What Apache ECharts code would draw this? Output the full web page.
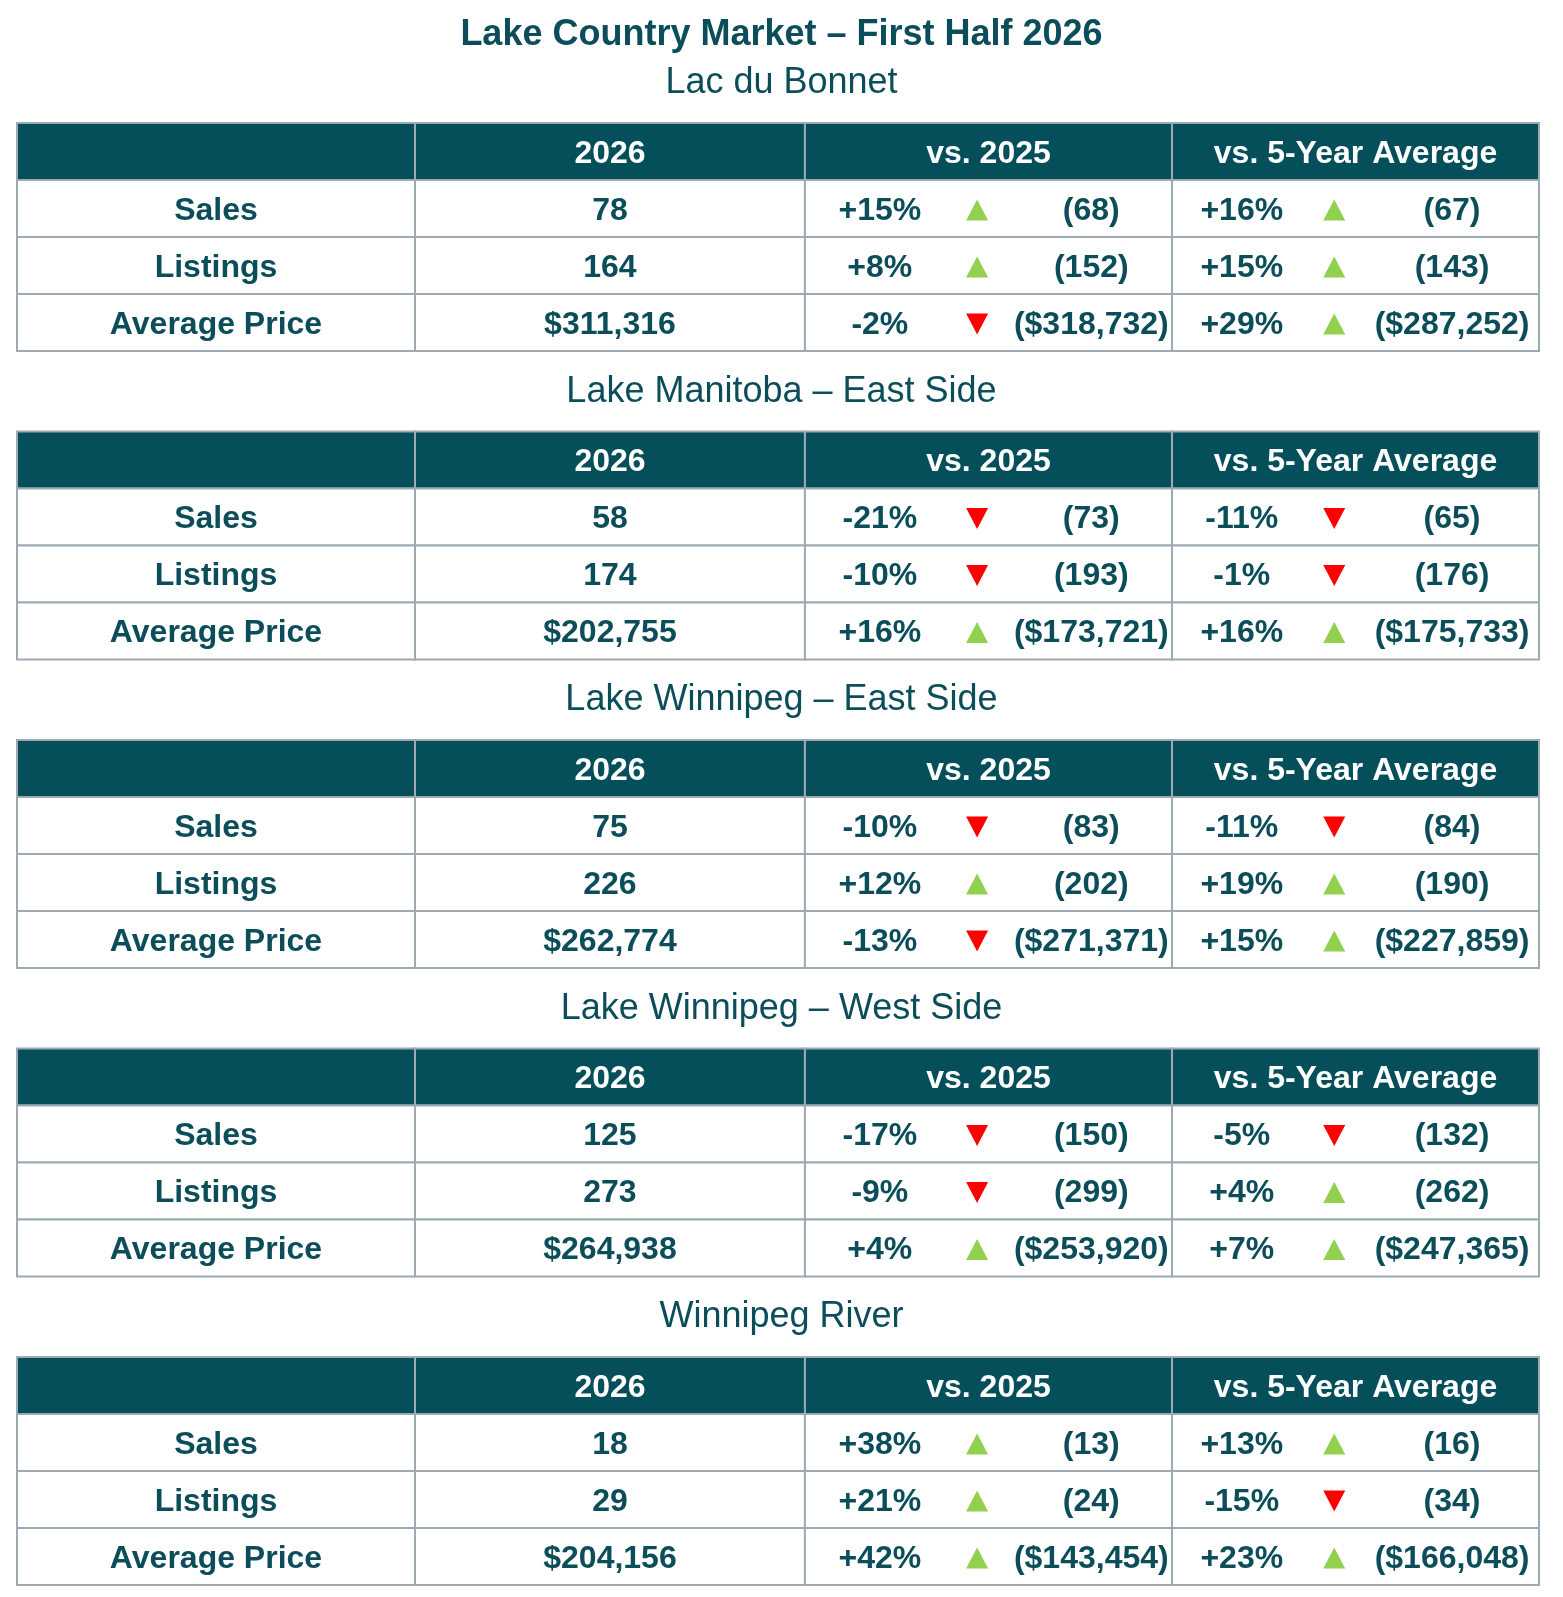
<!DOCTYPE html>
<html>
<head>
<meta charset="utf-8">
<title>Lake Country Market – First Half 2026</title>
<script src="https://cdn.jsdelivr.net/npm/echarts@6/dist/echarts.min.js"></script>
<style>
  html, body { margin: 0; padding: 0; background: #fff; }
  #chart { width: 1563px; height: 1597px; }
</style>
</head>
<body>
<div id="chart"></div>
<script>
// data
const areas = ['Lac du Bonnet', 'Lake Manitoba – East Side', 'Lake Winnipeg – East Side', 'Lake Winnipeg – West Side', 'Winnipeg River'];
const metrics = ['Sales', 'Listings', 'Average Price'];
const headers = ['', '2026', 'vs. 2025', 'vs. 5-Year Average'];

// [sales, listings, average price] per area
const current2026 = [[78, 164, 311316], [58, 174, 202755], [75, 226, 262774], [125, 273, 264938], [18, 29, 204156]];
const prior2025 = [[68, 152, 318732], [73, 193, 173721], [83, 202, 271371], [150, 299, 253920], [13, 24, 143454]];
const fiveYearAvg = [[67, 143, 287252], [65, 176, 175733], [84, 190, 227859], [132, 262, 247365], [16, 34, 166048]];
const pctVs2025 = [[15, 8, -2], [-21, -10, 16], [-10, 12, -13], [-17, -9, 4], [38, 21, 42]];
const pctVs5yr = [[16, 15, 29], [-11, -1, 16], [-11, 19, 15], [-5, 4, 7], [13, -15, 23]];

// layout
const FONT = "'Liberation Sans', Arial, sans-serif";
const TEAL = '#054f5b';
const TEXT = '#0b4e5a';
const BORDER = '#9daab3';
const UP = '#92d050';
const DOWN = '#ff0000';
const colEdges = [0, 0.2615, 0.5177, 0.7589, 1];
const subPos = { 2: [0.204, 0.469, 0.78], 3: [0.19, 0.442, 0.763] };
const tableTop0 = 123, tableStep = 308.5, tableH = 228;
const textShift = 2.5;

let myChart = echarts.init(document.getElementById('chart'));

let fmtVal = function (v, isPrice) {
    return isPrice ? '$' + v.toLocaleString('en-US') : String(v);
};
let fmtPct = function (p) {
    return (p > 0 ? '+' : '') + p + '%';
};

let txt = function (s, x, y, color) {
    return {
        type: 'text',
        style: {
            text: s, x: x, y: y + textShift, align: 'center', verticalAlign: 'middle',
            fill: color || TEXT, fontSize: 32, fontWeight: 'bold', fontFamily: FONT
        }
    };
};

let makeRender = function (t) {
    return function (params, api) {
        const c = api.value(0), r = api.value(1);
        const x0 = api.coord([colEdges[c], r])[0];
        const x1 = api.coord([colEdges[c + 1], r])[0];
        const yc = api.coord([0, r])[1];
        const h = api.size([0, 1])[1];
        const w = x1 - x0;
        const children = [{
            type: 'rect',
            shape: { x: x0, y: yc - h / 2, width: w, height: h },
            style: { fill: r === 0 ? TEAL : '#fff', stroke: BORDER, lineWidth: 2 }
        }];
        if (r === 0) {
            if (headers[c]) children.push(txt(headers[c], x0 + w / 2, yc, '#fff'));
        } else {
            const m = r - 1;
            const isPrice = m === 2;
            if (c === 0) {
                children.push(txt(metrics[m], x0 + w / 2, yc));
            } else if (c === 1) {
                children.push(txt(fmtVal(current2026[t][m], isPrice), x0 + w / 2, yc));
            } else {
                const p = c === 2 ? pctVs2025[t][m] : pctVs5yr[t][m];
                const ref = c === 2 ? prior2025[t][m] : fiveYearAvg[t][m];
                const pos = subPos[c];
                children.push(txt(fmtPct(p), x0 + w * pos[0], yc));
                const ax = x0 + w * pos[1];
                const ay = yc + 1.5;
                const up = p > 0;
                children.push({
                    type: 'polygon',
                    shape: {
                        points: up
                            ? [[ax - 11, ay + 10.5], [ax + 11, ay + 10.5], [ax, ay - 10.5]]
                            : [[ax - 11, ay - 10.5], [ax + 11, ay - 10.5], [ax, ay + 10.5]]
                    },
                    style: { fill: up ? UP : DOWN }
                });
                children.push(txt('(' + fmtVal(ref, isPrice) + ')', x0 + w * pos[2], yc));
            }
        }
        return { type: 'group', children: children };
    };
};

let grids = [], xAxes = [], yAxes = [], series = [];
let titles = [{
    text: 'Lake Country Market – First Half 2026',
    left: 'center', top: 15, padding: 0,
    textStyle: { fontFamily: FONT, fontSize: 36, fontWeight: 'bold', color: TEXT, lineHeight: 40 }
}];

areas.forEach(function (area, t) {
    const top = tableTop0 + t * tableStep;
    titles.push({
        text: area,
        left: 'center', top: top - 59.5, padding: 0,
        textStyle: { fontFamily: FONT, fontSize: 36, fontWeight: 'normal', color: TEXT, lineHeight: 40 }
    });
    grids.push({ left: 17, width: 1522, top: top, height: tableH });
    xAxes.push({ type: 'value', gridIndex: t, min: 0, max: 1, show: false });
    yAxes.push({ type: 'category', gridIndex: t, inverse: true, show: false, data: ['header'].concat(metrics) });
    const cells = [];
    for (let r = 0; r < 4; r++) {
        for (let c = 0; c < 4; c++) cells.push([c, r]);
    }
    series.push({
        name: area,
        type: 'custom',
        xAxisIndex: t,
        yAxisIndex: t,
        renderItem: makeRender(t),
        encode: { x: 0, y: 1 },
        data: cells,
        silent: true
    });
});

let option = {
    animation: false,
    backgroundColor: '#fff',
    title: titles,
    grid: grids,
    xAxis: xAxes,
    yAxis: yAxes,
    series: series
};

myChart.setOption(option);
</script>
</body>
</html>
